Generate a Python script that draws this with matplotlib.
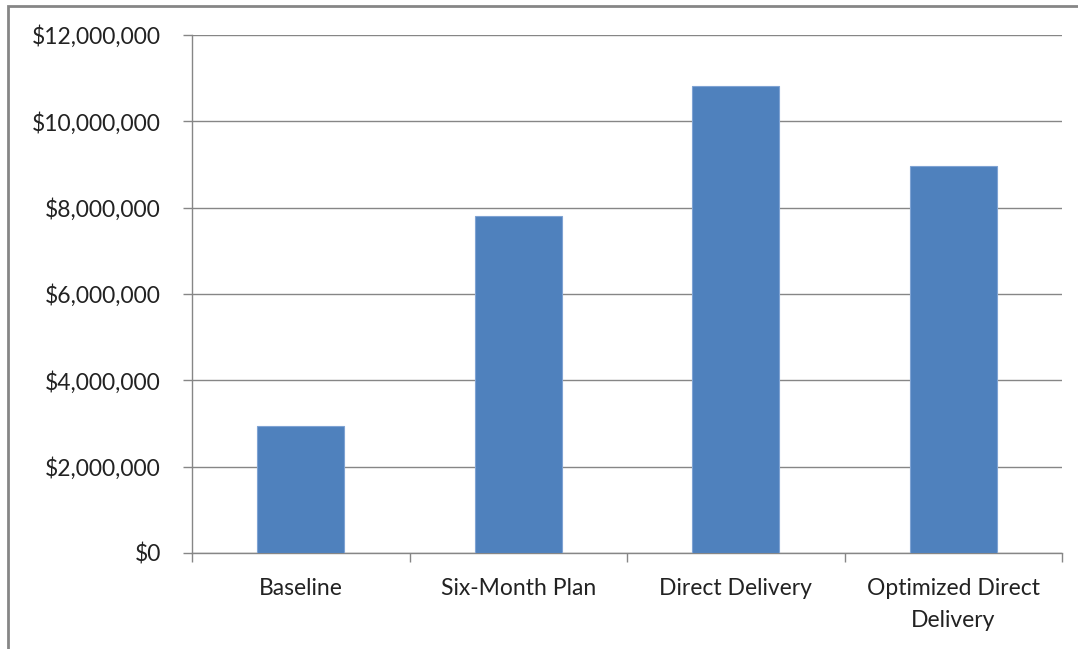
import matplotlib.pyplot as plt
from matplotlib.patches import Rectangle
from matplotlib.ticker import FuncFormatter

categories = ['Baseline', 'Six-Month Plan', 'Direct Delivery', 'Optimized Direct\nDelivery']
values = [2950000, 7800000, 10830000, 8960000]

plt.rcParams['font.family'] = ['Lato', 'DejaVu Sans']

fig = plt.figure(figsize=(10.78, 6.49), dpi=100)
ax = fig.add_axes([192 / 1078, 1 - 553 / 649, 870 / 1078, 518 / 649])

# outer chart border (right/bottom edges fall outside the image)
fig.patches.append(Rectangle((8 / 1078, -0.1), 1.2, 1 - 6 / 649 + 0.1,
                             transform=fig.transFigure, fill=False,
                             edgecolor='#868686', linewidth=2))

x = range(len(categories))
ax.bar(x, values, width=0.4, color='#4F81BD', edgecolor='#7FA3D3', linewidth=0.8, zorder=3)

ax.set_xlim(-0.5, len(categories) - 0.5)
ax.set_ylim(0, 12000000)
ax.set_yticks(range(0, 12000001, 2000000))
ax.yaxis.set_major_formatter(FuncFormatter(lambda v, p: '${:,.0f}'.format(v)))
ax.grid(axis='y', color='#868686', linewidth=1, zorder=0)

ax.set_xticks(list(x))
ax.set_xticklabels(categories, linespacing=1.62)
ax.set_xticks([i - 0.5 for i in range(len(categories) + 1)], minor=True)
ax.tick_params(axis='x', which='major', length=0, pad=18, labelsize=16.5, colors='#222222')
ax.tick_params(axis='x', which='minor', length=6.5, width=1, color='#868686')
ax.tick_params(axis='y', length=6.5, width=1, color='#868686', pad=16, labelsize=16.5,
               labelcolor='#222222')

for s in ['top', 'right']:
    ax.spines[s].set_visible(False)
for s in ['left', 'bottom']:
    ax.spines[s].set_color('#868686')
    ax.spines[s].set_linewidth(1)

fig.savefig('out.png', dpi=100)
